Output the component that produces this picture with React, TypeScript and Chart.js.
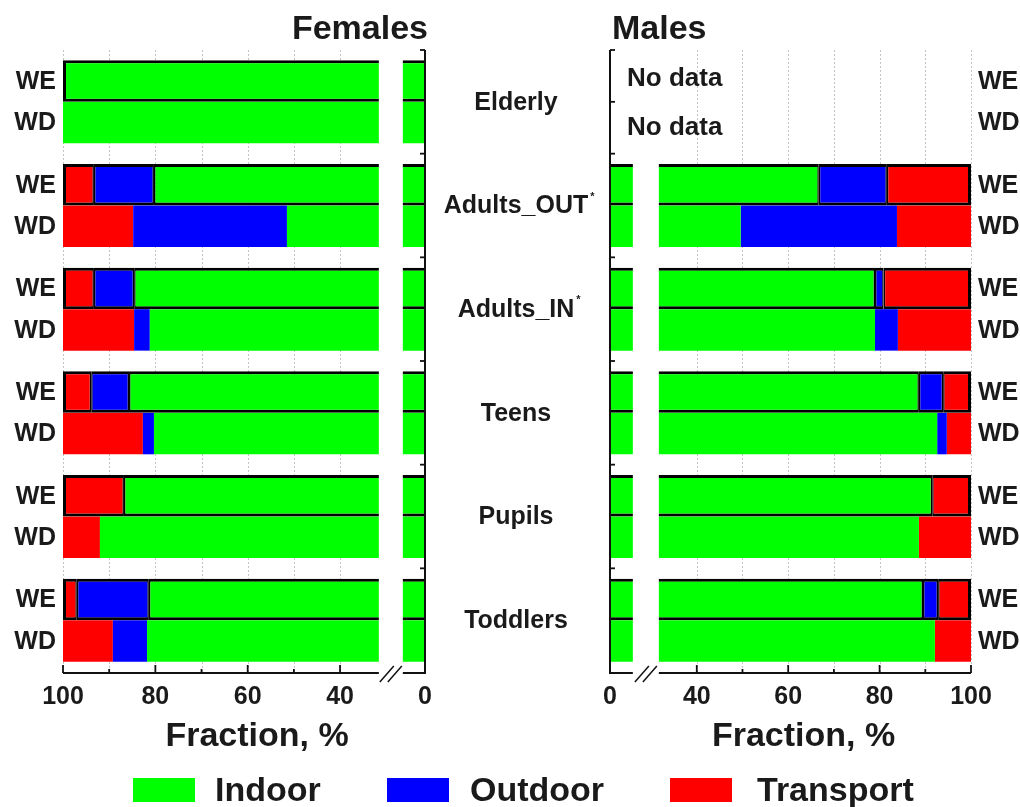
import React, { useEffect, useRef } from 'react';
import { Chart, registerables, LinearScale } from 'chart.js';

Chart.register(...registerables);

// ---------------- data ----------------
const groups = ['Elderly', 'Adults_OUT', 'Adults_IN', 'Teens', 'Pupils', 'Toddlers'];
const groupMarks = ['', '*', '*', '', '', ''];
const dayTypes = ['WE', 'WD'];
const seriesNames = ['Indoor', 'Outdoor', 'Transport'];
const seriesColors = ['#00ff00', '#0000ff', '#ff0000'];

// Females, % of time
const femaleIndoorWE = [100, 80.3, 84.6, 85.7, 86.8, 81.4];
const femaleOutdoorWE = [null, 13.0, 8.7, 8.2, null, 15.6];
const femaleTransportWE = [null, 6.7, 6.7, 6.1, 13.2, 3.0];
const femaleIndoorWD = [100, 51.5, 81.2, 80.3, 92.0, 81.8];
const femaleOutdoorWD = [null, 33.3, 3.4, 2.4, null, 7.4];
const femaleTransportWD = [null, 15.2, 15.4, 17.3, 8.0, 10.8];

// Males, % of time (Elderly: no data)
const maleIndoorWE = [null, 66.7, 79.0, 88.6, 91.5, 89.5];
const maleOutdoorWE = [null, 14.9, 1.9, 5.3, null, 3.3];
const maleTransportWE = [null, 18.4, 19.1, 6.1, 8.5, 7.2];
const maleIndoorWD = [null, 49.6, 79.0, 92.6, 88.6, 92.1];
const maleOutdoorWD = [null, 34.2, 5.0, 2.1, null, null];
const maleTransportWD = [null, 16.2, 16.0, 5.3, 11.4, 7.9];

const femaleTicks = [100, 90, 80, 70, 60, 50, 40, 0];
const maleTicks = [0, 40, 50, 60, 70, 80, 90, 100];
const labeledTicks = [0, 40, 60, 80, 100];
const gridValues = [40, 50, 60, 70, 80, 90, 100];
const femaleBreak = [4.8, 31.6];
const maleBreak = [5.0, 31.7];
const noDataText = 'No data';
const axisTitle = 'Fraction, %';

// ---------------- styling ----------------
const FONT = '"Liberation Sans", Arial, Helvetica, sans-serif';
const INK = '#1a1a1a';
const CAT_PCT = 0.8;

// ---------------- broken linear scale ----------------
class BrokenLinearScale extends LinearScale {
  static id = 'brokenLinear';
  static defaults = {};
  getPixelForValue(value: number) {
    const o: any = this.options;
    const lo = o.breakLow, hi = o.breakHigh, gap = o.breakGap;
    const min = (this as any).min, max = (this as any).max, len = (this as any)._length;
    const ppu = (len - gap) / ((lo - min) + (max - hi));
    let d;
    if (value <= lo) d = (value - min) * ppu;
    else if (value >= hi) d = (lo - min) * ppu + gap + (value - hi) * ppu;
    else d = (lo - min) * ppu + (gap * (value - lo)) / (hi - lo);
    return (this as any).getPixelForDecimal(d / len);
  }
  getValueForPixel(pixel: number) {
    const o: any = this.options;
    const lo = o.breakLow, hi = o.breakHigh, gap = o.breakGap;
    const min = (this as any).min, max = (this as any).max, len = (this as any)._length;
    const ppu = (len - gap) / ((lo - min) + (max - hi));
    const d = (this as any).getDecimalForPixel(pixel) * len;
    const d1 = (lo - min) * ppu;
    if (d <= d1) return min + d / ppu;
    if (d >= d1 + gap) return hi + (d - d1 - gap) / ppu;
    return lo + ((d - d1) / gap) * (hi - lo);
  }
}
Chart.register(BrokenLinearScale as any);

type Series = (number | null)[][];

function edgeWidths(series: Series, k: number, i: number, reversed: boolean) {
  let start = 0;
  for (let j = 0; j < k; j++) start += series[j][i] ?? 0;
  const end = start + (series[k][i] ?? 0);
  const hiW = end >= 99.9 ? 3 : 1.5;
  const loW = start <= 0.01 ? 0 : 1.5;
  return reversed
    ? { top: 3, bottom: 3, left: hiW, right: loW }
    : { top: 3, bottom: 3, left: loW, right: hiW };
}

function buildDatasets(we: Series, wd: Series, reversed: boolean) {
  const ds: any[] = [];
  we.forEach((data, k) =>
    ds.push({
      label: seriesNames[k] + ' ' + dayTypes[0],
      data,
      stack: dayTypes[0],
      backgroundColor: seriesColors[k],
      borderColor: '#000',
      borderWidth: (c: any) => edgeWidths(we, k, c.dataIndex, reversed),
      borderSkipped: false,
      categoryPercentage: CAT_PCT,
      barPercentage: 1,
    })
  );
  wd.forEach((data, k) =>
    ds.push({
      label: seriesNames[k] + ' ' + dayTypes[1],
      data,
      stack: dayTypes[1],
      backgroundColor: seriesColors[k],
      borderWidth: 0,
      borderSkipped: false,
      categoryPercentage: CAT_PCT,
      barPercentage: 1,
    })
  );
  return ds;
}

type PanelCfg = {
  title: string;
  reversed: boolean;
  we: Series;
  wd: Series;
  ticks: number[];
  brk: number[];
  gap: number;
  noData: boolean[];
  drawCategories: boolean;
  extraBandCenterTicks: number[];
};

function decoPlugin(cfg: PanelCfg) {
  return {
    id: 'panelDeco',
    beforeDatasetsDraw(chart: any) {
      const { ctx, chartArea: a } = chart;
      const x = chart.scales.x;
      ctx.save();
      ctx.strokeStyle = '#c4c4c4';
      ctx.lineWidth = 1;
      ctx.setLineDash([2, 2]);
      gridValues.forEach((v) => {
        const px = Math.round(x.getPixelForValue(v)) + 0.5;
        ctx.beginPath();
        ctx.moveTo(px, a.top);
        ctx.lineTo(px, a.bottom);
        ctx.stroke();
      });
      ctx.restore();
    },
    afterDatasetsDraw(chart: any) {
      const { ctx, chartArea: a } = chart;
      const x = chart.scales.x;
      const y = chart.scales.y;
      const pLo = x.getPixelForValue(cfg.brk[0]);
      const pHi = x.getPixelForValue(cfg.brk[1]);
      const g0 = Math.min(pLo, pHi);
      const g1 = Math.max(pLo, pHi);
      const px0 = x.getPixelForValue(0);
      const dir = cfg.reversed ? -1 : 1;
      const yAx = a.bottom + 1;
      ctx.save();
      // gap of the broken axis
      ctx.fillStyle = '#ffffff';
      ctx.fillRect(g0, a.top - 2, g1 - g0, a.bottom - a.top + 6);

      ctx.strokeStyle = '#111';
      ctx.lineWidth = 2;
      // x axis line (two pieces)
      ctx.beginPath();
      ctx.moveTo(a.left, yAx);
      ctx.lineTo(g0, yAx);
      ctx.moveTo(g1, yAx);
      ctx.lineTo(a.right, yAx);
      ctx.stroke();
      // y axis line at value 0
      ctx.beginPath();
      ctx.moveTo(px0, a.top);
      ctx.lineTo(px0, yAx + 1);
      ctx.stroke();
      // x ticks pointing inward
      ctx.lineWidth = 1.8;
      cfg.ticks.forEach((v) => {
        if (v === 0) return;
        const px = x.getPixelForValue(v);
        const len = labeledTicks.includes(v) ? 8 : 4;
        ctx.beginPath();
        ctx.moveTo(px, yAx);
        ctx.lineTo(px, yAx - len);
        ctx.stroke();
      });
      // y band ticks
      const n = groups.length;
      const band = (a.bottom - a.top) / n;
      const bandEdges: number[] = [];
      for (let k = 0; k < n; k++) bandEdges.push(y.getPixelForValue(k) - band / 2);
      cfg.extraBandCenterTicks.forEach((k) => bandEdges.push(y.getPixelForValue(k)));
      bandEdges.forEach((yy) => {
        ctx.beginPath();
        ctx.moveTo(px0, yy);
        ctx.lineTo(px0 + dir * 5, yy);
        ctx.stroke();
      });
      // break marks
      const cx = (g0 + g1) / 2;
      ctx.lineWidth = 1.5;
      [-4, 4].forEach((off) => {
        ctx.beginPath();
        ctx.moveTo(cx + off - 7, yAx + 9);
        ctx.lineTo(cx + off + 7, yAx - 7);
        ctx.stroke();
      });

      // WE / WD labels
      const thick = (band * CAT_PCT) / 2;
      ctx.fillStyle = INK;
      ctx.font = `bold 25px ${FONT}`;
      ctx.textBaseline = 'middle';
      ctx.textAlign = cfg.reversed ? 'right' : 'left';
      const lx = cfg.reversed ? a.left - 7 : a.right + 7;
      groups.forEach((_, i) => {
        const c = y.getPixelForValue(i);
        ctx.fillText(dayTypes[0], lx, c - thick / 2 + 1);
        ctx.fillText(dayTypes[1], lx, c + thick / 2 + 1);
        if (cfg.noData[i]) {
          ctx.save();
          ctx.font = `bold 26px ${FONT}`;
          ctx.textAlign = 'left';
          ctx.fillText(noDataText, px0 + 17, c - thick / 2 - 2);
          ctx.fillText(noDataText, px0 + 17, c + thick / 2 + 5);
          ctx.restore();
        }
      });

      // category labels in the middle
      if (cfg.drawCategories) {
        const mx = a.right + 91;
        groups.forEach((g, i) => {
          const c = y.getPixelForValue(i);
          ctx.font = `bold 25px ${FONT}`;
          ctx.textAlign = 'center';
          ctx.fillText(g, mx, c + 1);
          if (groupMarks[i]) {
            const w = ctx.measureText(g).width;
            ctx.font = `bold 11px ${FONT}`;
            ctx.textAlign = 'left';
            ctx.fillText(groupMarks[i], mx + w / 2 + 2, c - 9);
          }
        });
      }

      // panel title
      ctx.font = `bold 34px ${FONT}`;
      ctx.textBaseline = 'alphabetic';
      ctx.textAlign = cfg.reversed ? 'right' : 'left';
      ctx.fillText(cfg.title, cfg.reversed ? a.right + 3 : a.left + 2, 39);

      // axis title
      ctx.font = `bold 34px ${FONT}`;
      ctx.textAlign = 'center';
      ctx.fillText(axisTitle, (a.left + a.right) / 2 + 13, 746);
      ctx.restore();
    },
  };
}

function Panel({ cfg, left, width, padLeft, padRight }: { cfg: PanelCfg; left: number; width: number; padLeft: number; padRight: number }) {
  const ref = useRef<HTMLCanvasElement>(null);
  useEffect(() => {
    const chart = new Chart(ref.current as HTMLCanvasElement, {
      type: 'bar',
      data: { labels: groups, datasets: buildDatasets(cfg.we, cfg.wd, cfg.reversed) },
      options: {
        indexAxis: 'y',
        responsive: false,
        animation: false,
        events: [],
        layout: { padding: { left: padLeft, right: padRight, top: 50, bottom: 95 } },
        plugins: { legend: { display: false }, tooltip: { enabled: false }, title: { display: false } },
        scales: {
          y: {
            type: 'category',
            display: false,
            offset: true,
            stacked: true,
          },
          x: {
            type: 'brokenLinear',
            min: 0,
            max: 100,
            reverse: cfg.reversed,
            stacked: true,
            breakLow: cfg.brk[0],
            breakHigh: cfg.brk[1],
            breakGap: cfg.gap,
            grid: { display: false, drawTicks: false },
            border: { display: false },
            afterBuildTicks: (s: any) => {
              s.ticks = cfg.ticks.map((v) => ({ value: v }));
            },
            afterFit: (s: any) => {
              s.height = 40;
              s.paddingLeft = 0;
              s.paddingRight = 0;
            },
            ticks: {
              autoSkip: false,
              maxRotation: 0,
              minRotation: 0,
              padding: 10,
              color: INK,
              font: { family: FONT, size: 25, weight: 'bold' },
              callback: (v: any) => (labeledTicks.includes(Number(v)) ? String(v) : ''),
            },
          } as any,
        },
      },
      plugins: [decoPlugin(cfg)],
    } as any);
    return () => chart.destroy();
  }, []);
  return (
    <canvas
      ref={ref}
      width={width}
      height={807}
      style={{ position: 'absolute', left, top: 0, width, height: 807 }}
    />
  );
}

const femaleCfg: PanelCfg = {
  title: 'Females',
  reversed: true,
  we: [femaleIndoorWE, femaleOutdoorWE, femaleTransportWE],
  wd: [femaleIndoorWD, femaleOutdoorWD, femaleTransportWD],
  ticks: femaleTicks,
  brk: femaleBreak,
  gap: 24,
  noData: groups.map(() => false),
  drawCategories: true,
  extraBandCenterTicks: [],
};

const maleCfg: PanelCfg = {
  title: 'Males',
  reversed: false,
  we: [maleIndoorWE, maleOutdoorWE, maleTransportWE],
  wd: [maleIndoorWD, maleOutdoorWD, maleTransportWD],
  ticks: maleTicks,
  brk: maleBreak,
  gap: 26,
  noData: maleIndoorWE.map((v, i) => v === null && maleIndoorWD[i] === null),
  drawCategories: false,
  extraBandCenterTicks: [0],
};

const legendLayout = [
  { box: 133, text: 215 },
  { box: 387, text: 470 },
  { box: 670, text: 757 },
];

export default function App() {
  return (
    <div style={{ position: 'absolute', left: 0, top: 0, width: 1020, height: 807, background: '#fff', overflow: 'hidden' }}>
      <Panel cfg={femaleCfg} left={0} width={600} padLeft={63} padRight={175} />
      <Panel cfg={maleCfg} left={600} width={420} padLeft={10} padRight={49} />
      {seriesNames.map((name, k) => (
        <React.Fragment key={name}>
          <div
            style={{
              position: 'absolute',
              left: legendLayout[k].box,
              top: 778,
              width: 62,
              height: 24,
              background: seriesColors[k],
            }}
          />
          <div
            style={{
              position: 'absolute',
              left: legendLayout[k].text,
              top: 772,
              font: `bold 34px ${FONT}`,
              lineHeight: '34px',
              color: INK,
              whiteSpace: 'nowrap',
            }}
          >
            {name}
          </div>
        </React.Fragment>
      ))}
    </div>
  );
}
